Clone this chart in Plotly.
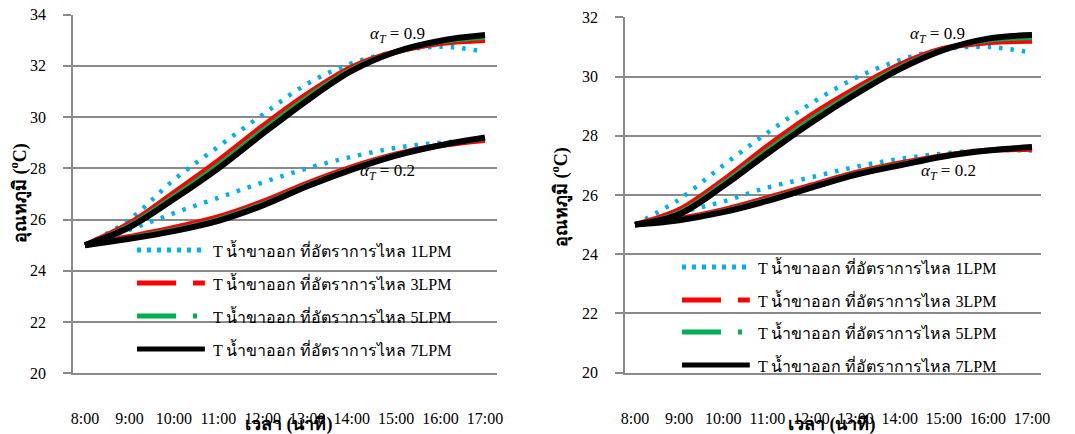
import plotly.graph_objects as go

# ---------------- data ----------------
hours = [8, 9, 10, 11, 12, 13, 14, 15, 16, 17]
hour_labels = ["8:00", "9:00", "10:00", "11:00", "12:00", "13:00",
               "14:00", "15:00", "16:00", "17:00"]
y_ticks_left = [20, 22, 24, 26, 28, 30, 32, 34]
y_ticks_right = [20, 22, 24, 26, 28, 30, 32]

series_names = ["T น้ำขาออก ที่อัตราการไหล 1LPM",
                "T น้ำขาออก ที่อัตราการไหล 3LPM",
                "T น้ำขาออก ที่อัตราการไหล 5LPM",
                "T น้ำขาออก ที่อัตราการไหล 7LPM"]

# left chart, alpha_T = 0.9
left_a09_1lpm = [25.0, 26.0, 27.55, 28.85, 30.1, 31.3, 32.1, 32.55, 32.75, 32.55]
left_a09_3lpm = [25.0, 25.85, 27.05, 28.3, 29.65, 30.9, 31.95, 32.55, 32.88, 33.0]
left_a09_5lpm = [25.0, 25.78, 26.92, 28.15, 29.5, 30.78, 31.88, 32.55, 32.93, 33.1]
left_a09_7lpm = [25.0, 25.7, 26.8, 28.0, 29.35, 30.65, 31.8, 32.55, 32.98, 33.2]
# left chart, alpha_T = 0.2
left_a02_1lpm = [25.0, 25.6, 26.25, 26.85, 27.45, 28.0, 28.45, 28.8, 29.0, 29.1]
left_a02_3lpm = [25.0, 25.33, 25.68, 26.1, 26.7, 27.42, 28.05, 28.55, 28.9, 29.1]
left_a02_5lpm = [25.0, 25.29, 25.61, 26.02, 26.62, 27.36, 28.0, 28.53, 28.9, 29.15]
left_a02_7lpm = [25.0, 25.25, 25.55, 25.95, 26.55, 27.3, 27.95, 28.5, 28.9, 29.2]

# right chart, alpha_T = 0.9
right_a09_1lpm = [25.0, 25.85, 27.0, 28.1, 29.1, 29.95, 30.55, 30.92, 31.0, 30.8]
right_a09_3lpm = [25.0, 25.5, 26.5, 27.65, 28.7, 29.6, 30.4, 30.95, 31.15, 31.2]
right_a09_5lpm = [25.0, 25.42, 26.4, 27.52, 28.58, 29.5, 30.32, 30.93, 31.22, 31.3]
right_a09_7lpm = [25.0, 25.35, 26.3, 27.4, 28.45, 29.4, 30.25, 30.9, 31.28, 31.4]
# right chart, alpha_T = 0.2
right_a02_1lpm = [25.0, 25.4, 25.78, 26.25, 26.6, 26.95, 27.22, 27.4, 27.52, 27.5]
right_a02_3lpm = [25.0, 25.2, 25.5, 25.9, 26.33, 26.75, 27.07, 27.33, 27.5, 27.55]
right_a02_5lpm = [25.0, 25.17, 25.46, 25.85, 26.29, 26.72, 27.04, 27.32, 27.5, 27.6]
right_a02_7lpm = [25.0, 25.15, 25.42, 25.8, 26.25, 26.68, 27.0, 27.3, 27.5, 27.62]

alpha_labels = ["<i>α<sub>T</sub></i> = 0.9", "<i>α<sub>T</sub></i> = 0.2"]
y_title = "อุณหภูมิ (<sup>o</sup>C)"
x_title = "เวลา (นาที)"

# ---------------- style ----------------
colors = ["#00B0F0", "#FF0000", "#00B050", "#000000"]
widths = [4.5, 5.5, 4.5, 6.0]
plot_dash = ["3.5px,8px", "solid", "solid", "solid"]
legend_dash = ["4px,6px", "39px,17px", "39px,17px,4px,30px", "solid"]
FONT = "Liberation Serif"
GRID = "#8a8a8a"

left_groups = [[left_a09_1lpm, left_a09_3lpm, left_a09_5lpm, left_a09_7lpm],
               [left_a02_1lpm, left_a02_3lpm, left_a02_5lpm, left_a02_7lpm]]
right_groups = [[right_a09_1lpm, right_a09_3lpm, right_a09_5lpm, right_a09_7lpm],
                [right_a02_1lpm, right_a02_3lpm, right_a02_5lpm, right_a02_7lpm]]

fig = go.Figure()
for groups, xa, ya in [(left_groups, "x", "y"), (right_groups, "x2", "y2")]:
    for k in range(4):
        for g in groups:
            fig.add_trace(go.Scatter(
                x=hours, y=g[k], mode="lines", name=series_names[k],
                line=dict(color=colors[k], width=widths[k], dash=plot_dash[k],
                          shape="spline", smoothing=1.0),
                showlegend=False, xaxis=xa, yaxis=ya, hoverinfo="skip"))

W, H = 1075, 434


def xaxis(domain, rng, anchor):
    return dict(domain=domain, range=rng, tickmode="array", tickvals=hours,
                ticktext=hour_labels, showgrid=False, zeroline=False, automargin=False,
                showline=True, linecolor=GRID, linewidth=1.5, ticks="", anchor=anchor,
                ticklabelstandoff=30, tickfont=dict(family=FONT, size=16, color="black"))


def yaxis(domain, rng, tv, anchor):
    return dict(domain=domain, range=rng, tickmode="array", tickvals=tv,
                showgrid=True, gridcolor=GRID, gridwidth=1.5, zeroline=False,
                showline=True, linecolor=GRID, linewidth=1.5, ticks="outside",
                ticklen=8, tickcolor=GRID, tickwidth=1.5, ticklabelstandoff=14,
                anchor=anchor, automargin=False,
                tickfont=dict(family=FONT, size=16, color="black"))


fig.update_layout(
    width=W, height=H, margin=dict(l=0, r=0, t=0, b=0, pad=0, autoexpand=False),
    paper_bgcolor="white", plot_bgcolor="white", showlegend=False,
    font=dict(family=FONT, size=16, color="black"),
    xaxis=xaxis([73 / W, 497 / W], [7.73, 17.27], "y"),
    yaxis=yaxis([1 - 373.3 / H, 1 - 14.6 / H], [20, 34], y_ticks_left, "x"),
    xaxis2=xaxis([625 / W, 1041 / W], [7.773, 17.204], "y2"),
    yaxis2=yaxis([1 - 372.7 / H, 1 - 17.3 / H], [20, 32], y_ticks_right, "x2"),
)

annotations = []
shapes = []
# legends (manual, to get long Excel-style samples)
legend_specs = [("x domain", "y domain", 0.151, 0.311, 0.325, [0.344, 0.252, 0.160, 0.068]),
                ("x2 domain", "y2 domain", 0.137, 0.300, 0.315, [0.2974, 0.2046, 0.1145, 0.0217])]
for xr, yr, sx0, sx1, tx, rows in legend_specs:
    for k in range(4):
        shapes.append(dict(type="line", xref=xr, yref=yr, x0=sx0, x1=sx1,
                           y0=rows[k], y1=rows[k],
                           line=dict(color=colors[k], width=5, dash=legend_dash[k])))
        annotations.append(dict(xref=xr, yref=yr, x=tx, y=rows[k], text=series_names[k],
                                showarrow=False, xanchor="left", yanchor="middle",
                                font=dict(family=FONT, size=16, color="black")))

# alpha labels
for xr, yr, pos in [("x", "y", [(15.04, 33.2), (14.8, 27.86)]),
                    ("x2", "y2", [(14.85, 31.4), (15.1, 26.78)])]:
    for (hx, vy), txt in zip(pos, alpha_labels):
        annotations.append(dict(xref=xr, yref=yr, x=hx, y=vy, text=txt, showarrow=False,
                                xanchor="center", yanchor="middle",
                                font=dict(family=FONT, size=17, color="black")))

# axis titles
for cx, cy in [(19, 193), (560, 197)]:
    annotations.append(dict(xref="paper", yref="paper", x=cx / W, y=1 - cy / H,
                            text="<b>" + y_title + "</b>",
                            textangle=-90, showarrow=False, xanchor="center", yanchor="middle",
                            font=dict(family=FONT, size=18, color="black")))
for cx in [289, 832]:
    annotations.append(dict(xref="paper", yref="paper", x=cx / W, y=1 - 424 / H,
                            text="<b>" + x_title + "</b>",
                            showarrow=False, xanchor="center", yanchor="middle",
                            font=dict(family=FONT, size=18, color="black")))

fig.update_layout(annotations=annotations, shapes=shapes)
fig.write_html("out.html", config={"displayModeBar": False},
               post_script="document.body.style.margin='0px';")
